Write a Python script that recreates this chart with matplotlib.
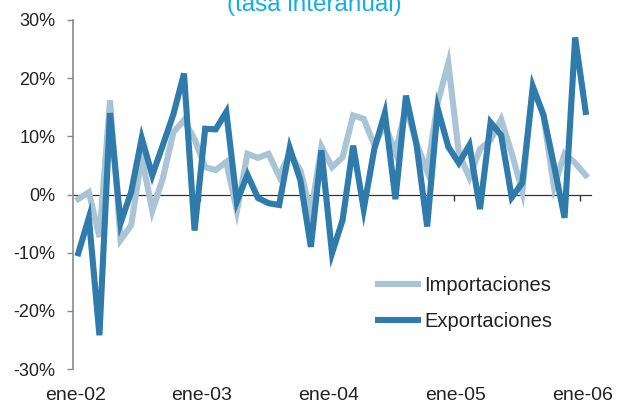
import matplotlib
matplotlib.use("Agg")
import matplotlib.pyplot as plt
import matplotlib.transforms as mtransforms

plt.rcParams['font.family'] = ['Liberation Sans', 'DejaVu Sans']

# Monthly year-on-year growth, Jan 2002 - Jan 2006 (%)
importaciones = [-0.8, 0.4, -7.3, 16.2, -7.8, -5.3, 6.5, -2.8, 2.8, 10.7, 12.8, 9.5,
                 4.7, 4.2, 5.6, -2.8, 7.0, 6.3, 7.0, 3.1, 7.0, 4.2, -3.2, 8.2,
                 4.7, 6.4, 13.6, 13.0, 8.5, 12.0, 7.2, 15.0, 8.8, 4.0, 15.8, 22.6,
                 7.1, 2.9, 7.8, 9.4, 12.9, 7.1, 0.5, 18.6, 13.5, 1.3, 7.0, 5.4,
                 3.3]
exportaciones = [-10.1, -4.0, -24.2, 14.0, -4.9, 0.4, 9.7, 3.3, 8.5, 13.8, 20.8, -6.2,
                 11.3, 11.2, 14.2, -1.2, 3.4, -0.6, -1.5, -1.8, 8.0, 2.5, -9.0, 7.6,
                 -10.1, -4.4, 8.4, -2.5, 7.8, 14.0, -0.8, 17.0, 8.5, -5.5, 14.8, 8.2,
                 5.4, 8.5, -2.5, 12.4, 10.2, -0.5, 2.0, 18.5, 13.7, 5.0, -4.0, 27.0,
                 14.2]
year_labels = ['ene-02', 'ene-03', 'ene-04', 'ene-05', 'ene-06']
y_ticks = [-30, -20, -10, 0, 10, 20, 30]

W, H = 620, 407
fig = plt.figure(figsize=(W / 100, H / 100), dpi=100)
ax = fig.add_axes([73 / W, (H - 369) / H, (591 - 73) / W, (369 - 20) / H])

months = list(range(len(exportaciones)))
c_imp = '#A9C4D4'
c_exp = '#2F7BAB'
ax.plot(months, importaciones, color=c_imp, lw=4.4, solid_joinstyle='miter',
        label='Importaciones', zorder=3)
ax.plot(months, exportaciones, color=c_exp, lw=4.4, solid_joinstyle='miter',
        label='Exportaciones', zorder=4)

ax.set_xlim(-0.5, len(months) - 0.5)
ax.set_ylim(-30, 30)

# y axis
ax.set_yticks(y_ticks)
ax.set_yticklabels([f'{v}%' for v in y_ticks])
ax.tick_params(axis='y', direction='out', length=4.5, width=1, color='#8a8a8a',
               labelsize=13, labelcolor='#222222', pad=8)
ax.spines['left'].set_color('#8a8a8a')
ax.spines['left'].set_linewidth(1.2)
ax.spines['top'].set_visible(False)
ax.spines['right'].set_visible(False)

# x axis drawn on the zero line, with year separators
ax.spines['bottom'].set_position(('data', 0))
ax.spines['bottom'].set_color('#333333')
ax.spines['bottom'].set_linewidth(0.9)
ax.spines['bottom'].set_zorder(2)
ax.set_xticks([])
ax.set_xticks([11.5, 23.5, 35.5, 47.5], minor=True)
ax.tick_params(axis='x', which='minor', direction='out', length=4.5, width=1,
               color='#333333')

trans = mtransforms.blended_transform_factory(ax.transData, ax.transAxes)
for k, lab in enumerate(year_labels):
    ax.text(k * 12 - 0.3, -0.075, lab, transform=trans, ha='center', va='center',
            fontsize=14, color='#222222')

leg = ax.legend(loc='upper left', bbox_to_anchor=(378 / W, (H - 276) / H),
                bbox_transform=fig.transFigure, frameon=False, fontsize=14.5,
                handlelength=2.0, handletextpad=0.28, labelspacing=0.85,
                borderpad=0, borderaxespad=0)
for t in leg.get_texts():
    t.set_color('#222222')

fig.text(314 / W, (H - 11) / H, '(tasa interanual)', ha='center', va='baseline',
         fontsize=17.5, color='#12AEEA')

fig.savefig('out.png', dpi=100)
